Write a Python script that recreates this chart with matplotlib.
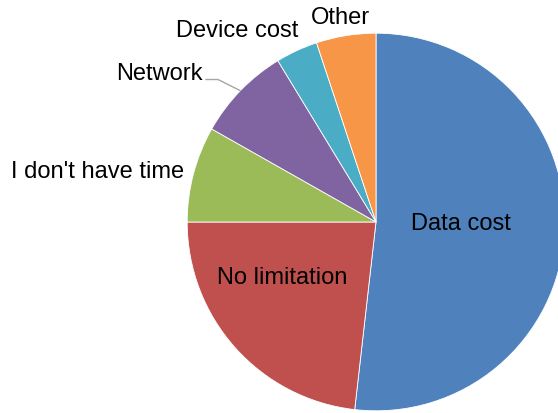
import matplotlib.pyplot as plt

plt.rcParams['font.family'] = ['Liberation Sans', 'DejaVu Sans']

# Данные
labels = ['Data cost', 'No limitation', "I don't have time", 'Network', 'Device cost', 'Other']
values = [51.8, 23.2, 8.2, 8.1, 3.6, 5.1]
colors = ['#4F81BD', '#C0504D', '#9BBB59', '#8064A2', '#4BACC6', '#F79646']

W, H = 558, 414
cx, cy, R = 376, 223, 188.8

fig = plt.figure(figsize=(W / 100, H / 100), dpi=100)
ax = fig.add_axes([0, 0, 1, 1])

ax.pie(values, colors=colors, startangle=90, counterclock=False, radius=1,
       wedgeprops=dict(edgecolor='white', linewidth=0.6))

ax.set_xlim(-cx / R, (W - cx) / R)
ax.set_ylim(-(H - cy) / R, cy / R)
ax.set_aspect('equal')
ax.axis('off')


def px(x, y):
    # пиксели картинки -> координаты данных
    return (x - cx) / R, (cy - y) / R


# подписи (центр текста в пикселях)
label_pos = [(461, 224.5), (282, 277.5), (98, 172.5), (159, 73.5), (237, 31.5), (340, 17.5)]
for lab, (x, y) in zip(labels, label_pos):
    tx, ty = px(x, y)
    ax.text(tx, ty, lab, fontsize=17, ha='center', va='center', color='black')

# выноска для Network
lx, ly = zip(*[px(206, 80.5), px(218, 80.5), px(240, 91.5)])
ax.plot(lx, ly, color='#A6A6A6', linewidth=1)

plt.savefig('out.png', dpi=100)
